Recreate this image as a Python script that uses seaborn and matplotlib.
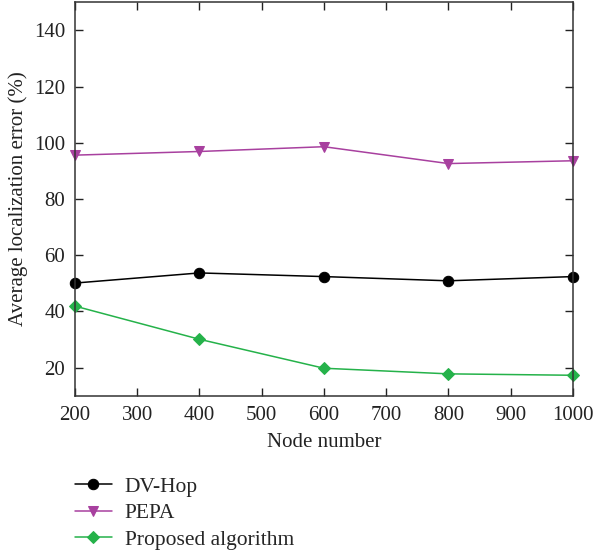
import pandas as pd
import seaborn as sns
import matplotlib.pyplot as plt

# values
nodes = [200, 400, 600, 800, 1000]
dv_hop = [50.1, 53.7, 52.4, 50.9, 52.4]
pepa = [95.6, 96.9, 98.6, 92.6, 93.6]
proposed = [41.9, 30.1, 19.8, 17.8, 17.3]

series_names = ["DV-Hop", "PEPA", "Proposed algorithm"]
colors = ["#000000", "#a8409f", "#25b24a"]
markers = ["o", "v", "D"]
marker_sizes = [7.5, 7, 6]

df = pd.concat([
    pd.DataFrame({"Node number": nodes, "error": vals, "method": name})
    for name, vals in zip(series_names, [dv_hop, pepa, proposed])
])

sns.set_style("ticks")
plt.rcParams["font.family"] = ["Liberation Serif", "DejaVu Serif"]

fig = plt.figure(figsize=(5.93, 5.52), dpi=100)
ax = fig.add_axes([0.1265, 0.283, 0.8395, 0.713])

for name, col, mk, ms in zip(series_names, colors, markers, marker_sizes):
    sns.lineplot(data=df[df["method"] == name], x="Node number", y="error",
                 color=col, marker=mk, markersize=ms, markeredgecolor=col,
                 linewidth=1.1, label=name, ax=ax, clip_on=False)

ax.set_xlim(200, 1000)
ax.set_ylim(10, 150)
ax.set_xticks(range(200, 1001, 100))
ax.set_yticks(range(20, 141, 20))
ax.tick_params(direction="in", top=True, right=True, labelsize=15,
               length=6, width=1, colors="#222222", pad=7)
for sp in ax.spines.values():
    sp.set_linewidth(1.1)
    sp.set_color("#333333")
ax.set_xlabel("Node number", fontsize=15, color="#222222", labelpad=6)
ax.set_ylabel("Average localization error (%)", fontsize=15, color="#222222")

ax.legend(loc="upper left", bbox_to_anchor=(0.0, -0.205), frameon=False,
          prop={"size": 15.5}, handlelength=1.7, handletextpad=0.6,
          labelspacing=0.3, borderaxespad=0, borderpad=0)

fig.savefig("out.png", dpi=100)
